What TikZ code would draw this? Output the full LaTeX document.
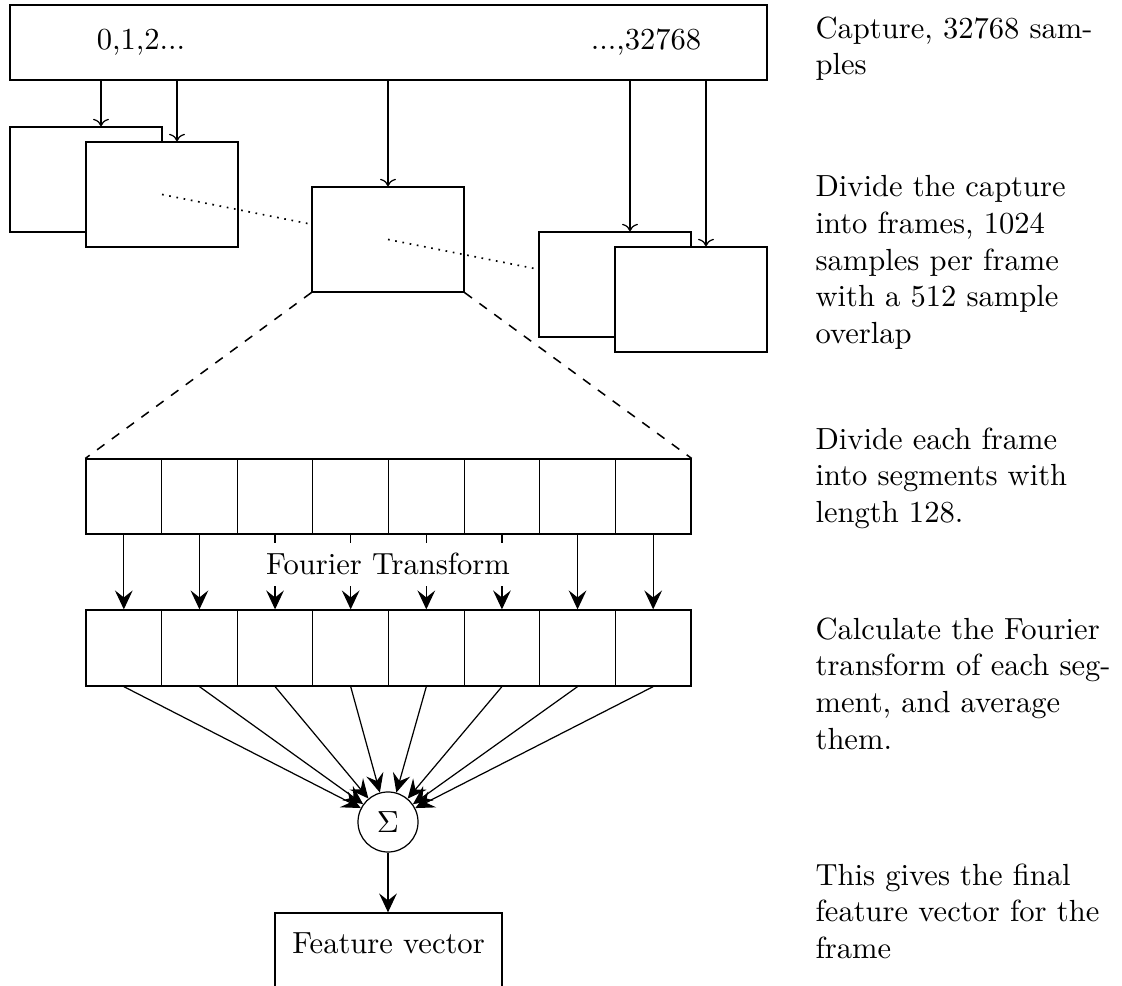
\documentclass[tikz,border=0pt]{standalone}
\usetikzlibrary{arrows.meta,fit,calc}
\begin{document}
\begin{tikzpicture}[x=0.3273pt, y=-0.3273pt,
  box/.style={draw, fill=white, inner sep=0pt},
  thinarrow/.style={->},
  bigarrow/.style={-{Stealth[length=6.2pt,width=5.8pt,inset=2.3pt]}},
  dots/.style={line width=0.55pt, dash pattern=on 0.55pt off 1.85pt},
  note/.style={anchor=north west, inner sep=0pt, text width=98pt, align=left}]

\useasboundingbox (0,0) rectangle (1122,986);
\clip (0,0) rectangle (1122,986);

% the whole capture
\node[box, fit={(10,5) (767,80)}] (cap) {};
\node[anchor=base] (first) at (141,50) {0,1,2...};
\node[anchor=base] (last) at (646,50) {...,32768};

% overlapping frames
\node[box, fit={(10,127) (162,232)}] (f1) {};
\node[box, fit={(86,142) (238,247)}] (f2) {};
\node[box, fit={(312,187) (464,292)}] (mid) {};
\node[box, fit={(539,232) (691,337)}] (fA) {};
\node[box, fit={(615,247) (767,352)}] (fB) {};

\draw[dots] (f2.center) -- (mid);
\draw[dots] (mid.center) -- (fA);

% capture -> frames
\coordinate (a1) at ($(f1.north)+(15,0)$);
\coordinate (a2) at ($(f2.north)+(15,0)$);
\coordinate (a3) at (mid.north);
\coordinate (a4) at ($(fA.north)+(15,0)$);
\coordinate (a5) at ($(fB.north)+(15,0)$);
\foreach \k in {1,...,5}
  \draw[thinarrow] (cap.south -| a\k) -- (a\k);

% segments of one frame and their transforms
\foreach \i in {1,...,8} {
  \pgfmathsetmacro\xa{86+(\i-1)*75.625}
  \pgfmathsetmacro\xb{86+\i*75.625}
  \node[box, fit={(\xa,459) (\xb,534)}] (s\i) {};
  \node[box, fit={(\xa,610) (\xb,686)}] (t\i) {};
}

\draw[dashed, line width=0.5pt] (mid.south west) -- (s1.north west);
\draw[dashed, line width=0.5pt] (mid.south east) -- (s8.north east);

\foreach \i in {1,...,8}
  \draw[bigarrow] (s\i.south) -- (t\i.north);
\node[fill=white, anchor=base] (ft) at (388,575) {Fourier Transform};

% averaging
\node[draw, circle, minimum size=19.64pt, inner sep=0pt] (sum) at (388,822) {$\Sigma$};
\foreach \i in {1,...,8}
  \draw[bigarrow] (t\i.south) -- (sum);

\node[draw, inner sep=0pt, fit={(275,913) (502,1010)}] (fv) {};
\node[anchor=base] (fvt) at (388.5,953) {Feature vector};
\draw[bigarrow] (sum.south) -- (sum.south |- fv.north);

% descriptions
\node[note] (n1) at (815,16) {Capture, 32768 samples};
\node[note] (n2) at (815,175) {Divide the capture into frames, 1024 samples per frame with a 512 sample overlap};
\node[note] (n3) at (815,427) {Divide each frame into segments with length 128.};
\node[note] (n4) at (815,617) {Calculate the Fourier transform of each segment, and average them.};
\node[note] (n5) at (815,863) {This gives the final feature vector for the frame};
\end{tikzpicture}
\end{document}
